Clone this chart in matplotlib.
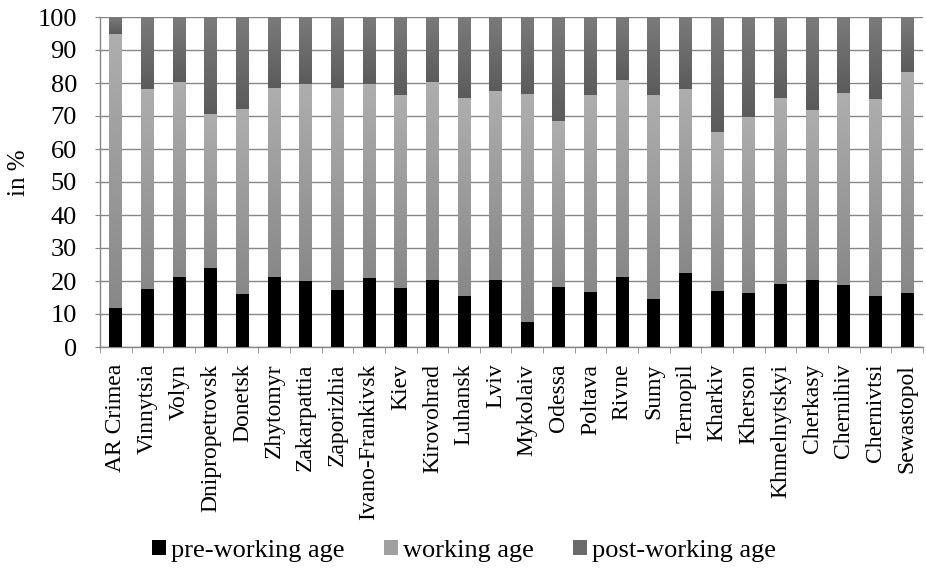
import numpy as np
import matplotlib
matplotlib.use("Agg")
import matplotlib.pyplot as plt
from matplotlib.colors import LinearSegmentedColormap
from matplotlib.patches import Patch

regions = ["AR Crimea", "Vinnytsia", "Volyn", "Dnipropetrovsk", "Donetsk", "Zhytomyr",
           "Zakarpattia", "Zaporizhia", "Ivano-Frankivsk", "Kiev", "Kirovohrad", "Luhansk",
           "Lviv", "Mykolaiv", "Odessa", "Poltava", "Rivne", "Sumy", "Ternopil", "Kharkiv",
           "Kherson", "Khmelnytskyi", "Cherkasy", "Chernihiv", "Chernivtsi", "Sewastopol"]
pre_working = [11.7, 17.5, 21.1, 23.9, 16.0, 21.1, 19.9, 17.2, 20.8, 17.8, 20.2, 15.4,
               20.2, 7.6, 18.1, 16.6, 21.1, 14.5, 22.4, 16.9, 16.3, 19.0, 20.2, 18.7, 15.4, 16.3]
working_top = [94.7, 78.2, 80.4, 70.7, 72.2, 78.5, 79.8, 78.5, 79.6, 76.4, 80.4, 75.5,
               77.6, 76.7, 68.6, 76.4, 81.0, 76.4, 78.2, 65.3, 69.8, 75.5, 71.9, 77.0, 75.2, 83.4]
working = [round(t - p, 1) for t, p in zip(working_top, pre_working)]
post_working = [round(100 - t, 1) for t in working_top]
series_names = ["pre-working age", "working age", "post-working age"]
yticks = list(range(0, 101, 10))

plt.rcParams['font.family'] = 'serif'
plt.rcParams['font.serif'] = ['Liberation Serif', 'Times New Roman', 'DejaVu Serif']

fig = plt.figure(figsize=(9.26, 5.76), dpi=100)
ax = fig.add_axes([100/926, 1 - 347/576, 823/926, 330/576])

x = np.arange(len(regions))
w = 0.41
b1 = ax.bar(x, pre_working, w, color="black", zorder=3)
b2 = ax.bar(x, working, w, bottom=pre_working, color="#9c9c9c", zorder=3)
b3 = ax.bar(x, post_working, w, bottom=working_top, color="#6a6a6a", zorder=3)

grad_work = LinearSegmentedColormap.from_list("gw", ["#888888", "#aeaeae"])
grad_post = LinearSegmentedColormap.from_list("gp", ["#5b5b5b", "#7b7b7b"])
ax.set_xlim(-0.5, len(regions) - 0.5)
ax.set_ylim(0, 100)
for bars, cmap in ((b2, grad_work), (b3, grad_post)):
    for r in bars:
        r.set_facecolor("none")
        x0, y0 = r.get_x(), r.get_y()
        im = ax.imshow(np.linspace(0, 1, 100).reshape(-1, 1), cmap=cmap, origin="lower",
                       extent=(x0, x0 + r.get_width(), y0, y0 + r.get_height()),
                       aspect="auto", zorder=3)
        im.set_clip_path(r)
ax.set_xlim(-0.5, len(regions) - 0.5)
ax.set_ylim(0, 100)

ax.set_yticks(yticks)
ax.yaxis.grid(True, color="#868686", linewidth=1.0, zorder=0)
ax.set_axisbelow(True)
for s in ("top", "right"):
    ax.spines[s].set_visible(False)
for s in ("left", "bottom"):
    ax.spines[s].set_color("#868686")
    ax.spines[s].set_linewidth(1.0)
ax.tick_params(axis="y", direction="out", length=3.6, color="#868686", labelsize=19, pad=13)
ax.set_xticks(x)
ax.set_xticklabels(regions, rotation=90, fontsize=17)
ax.tick_params(axis="x", length=0, pad=12)
ax.set_xticks(np.arange(-0.5, len(regions)), minor=True)
ax.tick_params(axis="x", which="minor", direction="out", length=4.3, color="#868686")
ax.set_ylabel("in %", fontsize=18)
ax.yaxis.set_label_coords(-0.085, 0.527)

handles = [Patch(facecolor="black"), Patch(facecolor="#a0a0a0"), Patch(facecolor="#6a6a6a")]
fig.legend(handles, series_names, loc="center", bbox_to_anchor=(0.501, 1 - 551/576), ncol=3,
           frameon=False, fontsize=19, handlelength=0.53, handleheight=0.53,
           handletextpad=0.19, columnspacing=1.5)

fig.savefig("out.png", dpi=100)
